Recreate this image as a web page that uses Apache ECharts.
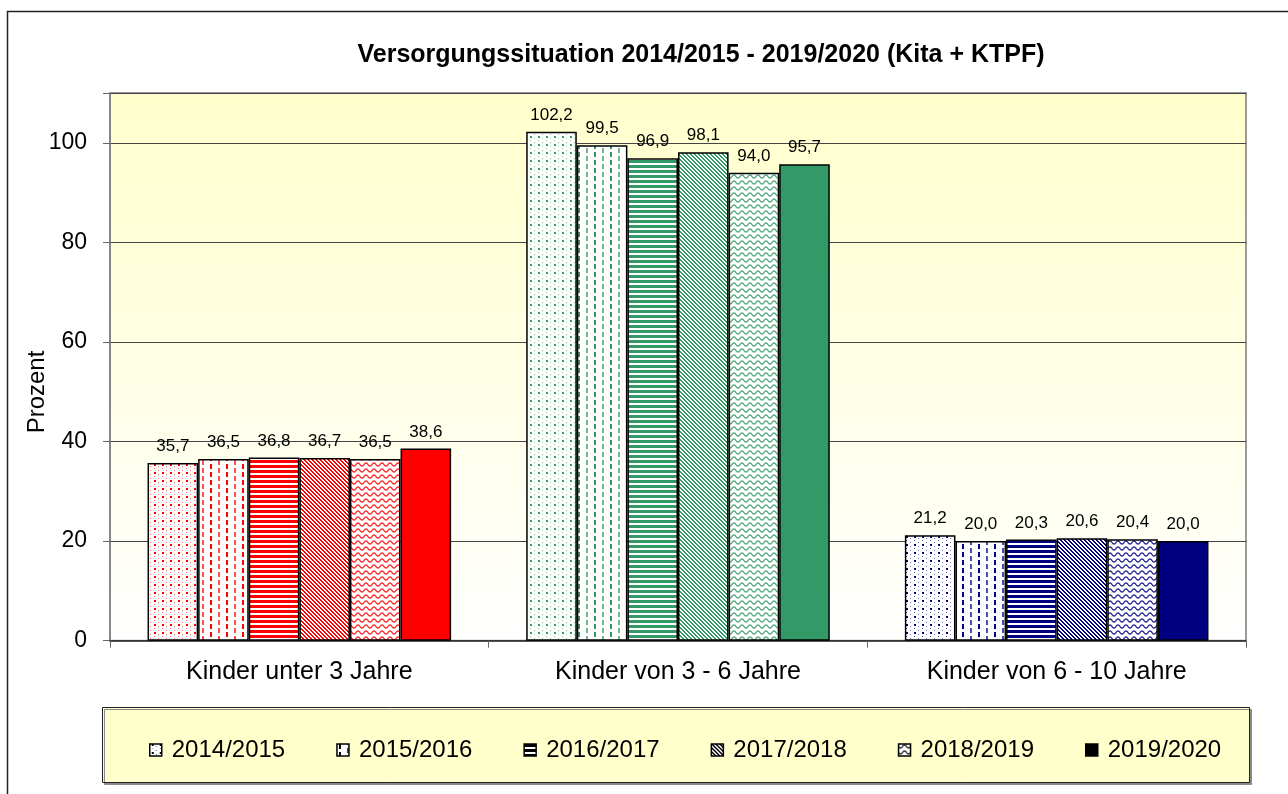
<!DOCTYPE html>
<html>
<head>
<meta charset="utf-8">
<script src="https://cdn.jsdelivr.net/npm/echarts@6/dist/echarts.min.js"></script>
<style>
html,body{margin:0;padding:0;background:#fff;}
#chart{width:1288px;height:794px;}
</style>
</head>
<body>
<div id="chart"></div>
<script>
// ---- data ----
const categories = ['Kinder unter 3 Jahre', 'Kinder von 3 - 6 Jahre', 'Kinder von 6 - 10 Jahre'];
const seriesNames = ['2014/2015', '2015/2016', '2016/2017', '2017/2018', '2018/2019', '2019/2020'];
const v2014_2015 = [35.7, 102.2, 21.2];
const v2015_2016 = [36.5, 99.5, 20.0];
const v2016_2017 = [36.8, 96.9, 20.3];
const v2017_2018 = [36.7, 98.1, 20.6];
const v2018_2019 = [36.5, 94.0, 20.4];
const v2019_2020 = [38.6, 95.7, 20.0];
const yTicks = [0, 20, 40, 60, 80, 100];

const seriesValues = [v2014_2015, v2015_2016, v2016_2017, v2017_2018, v2018_2019, v2019_2020];
const patternTypes = ['dots', 'vdash', 'hstripe', 'diag', 'wave', 'solid'];
const categoryColors = ['#FF0000', '#339966', '#000080'];
const FONT = '"Liberation Sans", Arial, sans-serif';

function makePattern(type, color) {
  if (type === 'solid') return color;
  const c = document.createElement('canvas');
  let w = 8, h = 8;
  if (type === 'vdash') { w = 16; h = 8; }
  if (type === 'hstripe') { w = 4; h = 5; }
  if (type === 'diag') { w = 4; h = 4; }
  if (type === 'wave') { w = 8; h = 6; }
  c.width = w; c.height = h;
  const ctx = c.getContext('2d');
  ctx.fillStyle = '#ffffff';
  ctx.fillRect(0, 0, w, h);
  ctx.fillStyle = color;
  ctx.strokeStyle = color;
  if (type === 'dots') {
    ctx.fillRect(2, 0, 2, 2);
    ctx.globalAlpha = 0.55;
    ctx.fillRect(2, 4, 1, 1);
    ctx.fillRect(6, 2, 1, 1);
    ctx.fillRect(6, 6, 1, 1);
  } else if (type === 'vdash') {
    ctx.fillRect(2, 0, 2, 5);
    ctx.globalAlpha = 0.7;
    ctx.fillRect(10, 4, 2, 4);
    ctx.fillRect(10, 0, 2, 1);
  } else if (type === 'hstripe') {
    ctx.fillRect(0, 0, w, 3);
  } else if (type === 'diag') {
    for (let y = 0; y < h; y++) {
      for (let x = 0; x < w; x++) {
        if ((((x - y) % 4) + 4) % 4 < 2) ctx.fillRect(x, y, 1, 1);
      }
    }
  } else if (type === 'wave') {
    ctx.lineWidth = 1.3;
    ctx.globalAlpha = 0.85;
    ctx.beginPath();
    for (let x = -1; x <= w + 1; x += 0.5) {
      const y = 2.5 + 1.6 * Math.sin(2 * Math.PI * x / 8);
      if (x === -1) ctx.moveTo(x, y); else ctx.lineTo(x, y);
    }
    ctx.stroke();
  }
  return { image: c, repeat: 'repeat' };
}

const fmt = v => v.toFixed(1).replace('.', ',');

const series = seriesNames.map((name, si) => ({
  name: name,
  type: 'bar',
  barWidth: 50.6,
  barGap: '0%',
  itemStyle: { color: makePattern(patternTypes[si], '#000000'), borderColor: '#000', borderWidth: 1.5 },
  label: {
    show: true, position: 'top', distance: 8,
    fontFamily: FONT, fontSize: 17, color: '#000',
    formatter: p => fmt(p.value)
  },
  data: seriesValues[si].map((v, ci) => ({
    value: v,
    itemStyle: { color: makePattern(patternTypes[si], categoryColors[ci]), borderColor: '#000', borderWidth: 1.5 }
  }))
}));

const chart = echarts.init(document.getElementById('chart'), null, { renderer: 'canvas' });
chart.setOption({
  animation: false,
  backgroundColor: '#ffffff',
  grid: {
    left: 110, right: 42, top: 93, bottom: 153.3,
    show: true,
    borderColor: '#9a9a9a', borderWidth: 2,
    backgroundColor: new echarts.graphic.LinearGradient(0, 0, 0, 1, [
      { offset: 0, color: '#FFFFCC' },
      { offset: 1, color: '#FFFFFF' }
    ])
  },
  xAxis: {
    type: 'category',
    data: categories,
    boundaryGap: true,
    axisLine: { lineStyle: { color: '#333', width: 1.5 } },
    axisTick: { show: true, alignWithLabel: false, length: 7, lineStyle: { color: '#666' } },
    axisLabel: { fontFamily: FONT, fontSize: 25, color: '#000', margin: 19 }
  },
  yAxis: {
    type: 'value',
    min: 0, max: 110, interval: 20,
    axisLine: { show: true, lineStyle: { color: '#808080', width: 1.5 } },
    axisTick: { show: true, length: 7, lineStyle: { color: '#666' } },
    axisLabel: {
      fontFamily: FONT, fontSize: 23, color: '#000', margin: 23,
      formatter: v => (yTicks.indexOf(v) >= 0 ? String(v) : '')
    },
    splitLine: { show: true, lineStyle: { color: '#444', width: 1 } }
  },
  legend: {
    data: seriesNames,
    left: 144, top: 733,
    icon: 'rect',
    itemWidth: 12, itemHeight: 12, itemGap: 51,
    textStyle: { fontFamily: FONT, fontSize: 24, color: '#000', padding: [0, 0, 0, 5] },
    itemStyle: { borderColor: '#000', borderWidth: 1.5 }
  },
  graphic: [
    {
      type: 'rect', z: -10, silent: true,
      shape: { x: 7.5, y: 11.5, width: 1300, height: 800 },
      style: { fill: 'none', stroke: '#222', lineWidth: 1.5 }
    },
    {
      type: 'rect', z: 0, silent: true,
      shape: { x: 102.5, y: 707.5, width: 1147, height: 75 },
      style: { fill: '#FFFFCC', stroke: '#222', lineWidth: 1, shadowColor: '#8a8a8a', shadowOffsetX: 2, shadowOffsetY: 2, shadowBlur: 0 }
    },
    {
      type: 'text', z: 10, silent: true,
      x: 701, y: 55,
      style: { text: 'Versorgungssituation 2014/2015 - 2019/2020 (Kita + KTPF)', fontFamily: FONT, fontSize: 25, fontWeight: 'bold', fill: '#000', align: 'center', verticalAlign: 'middle' }
    },
    {
      type: 'text', z: 10, silent: true,
      x: 37, y: 392, rotation: Math.PI / 2,
      style: { text: 'Prozent', fontFamily: FONT, fontSize: 24, fill: '#000', align: 'center', verticalAlign: 'middle' }
    }
  ],
  series: series
});
</script>
</body>
</html>
